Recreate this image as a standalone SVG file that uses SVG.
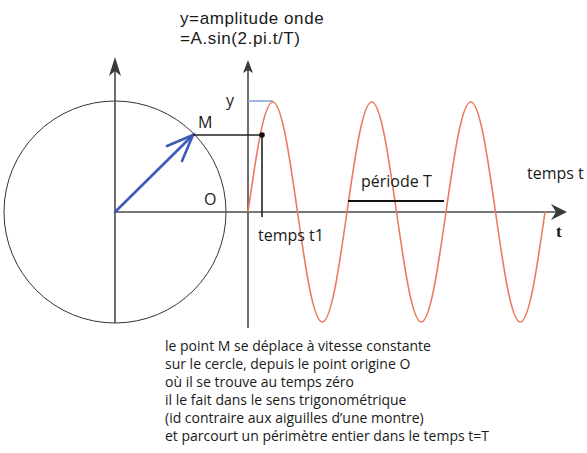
<svg xmlns="http://www.w3.org/2000/svg" width="587" height="453" viewBox="0 0 587 453">
  <style>
    .txt { font-family: "Open Sans", "Noto Sans", sans-serif; fill: #1a1a1a; }
    .title { font-family: "Liberation Sans", Arial, sans-serif; fill: #1a1a1a; font-size: 17px; letter-spacing: 0.6px; }
    .axis { stroke: #4a4a4a; stroke-width: 1.6; fill: none; }
    .thin { stroke: #333; stroke-width: 1; fill: none; }
    .wave { stroke: #ec7a5c; stroke-width: 1.6; fill: none; }
    .vec { stroke: #3b5cb8; stroke-width: 2.6; fill: none; stroke-linecap: round; }
  </style>
  <rect width="587" height="453" fill="#ffffff"/>

  <g id="circle">
    <circle cx="115" cy="212" r="111" class="thin" stroke="#3a3a3a"/>
  </g>

  <g id="axes">
    <line x1="115" y1="64" x2="115" y2="323" class="axis"/>
    <path d="M115,57 L121,76 L115,71 L109,76 Z" fill="#3a3a3a"/>
    <line x1="248" y1="66" x2="248" y2="328" class="axis"/>
    <path d="M248,60 L253,73 L248,70 L243,73 Z" fill="#3a3a3a"/>
    <line x1="115" y1="212" x2="562" y2="212" class="axis"/>
    <path d="M567,212 L551,204 L556,212 L551,220 Z" fill="#3a3a3a"/>
  </g>

  <g id="wave">
    <line x1="248" y1="101" x2="273" y2="101" stroke="#8fa2e0" stroke-width="1.6"/>
    <path class="wave" d="M248,212
      c8.07,-56.35 15.79,-110 24.75,-110 c8.96,0 16.68,53.65 24.75,110 c8.07,56.35 15.79,110 24.75,110 c8.96,0 16.68,-53.65 24.75,-110
      c8.07,-56.35 15.79,-110 24.75,-110 c8.96,0 16.68,53.65 24.75,110 c8.07,56.35 15.79,110 24.75,110 c8.96,0 16.68,-53.65 24.75,-110
      c8.07,-56.35 15.79,-110 24.75,-110 c8.96,0 16.68,53.65 24.75,110 c8.07,56.35 15.79,110 24.75,110 c8.96,0 16.68,-53.65 24.75,-110"/>
  </g>

  <g id="vector">
    <line x1="115" y1="212" x2="193" y2="135" class="vec"/>
    <path d="M167,146 L193,135 L182,161" class="vec" stroke-width="1.8" stroke="#5a78cc"/>
  </g>

  <g id="projection">
    <line x1="193" y1="135" x2="262" y2="135" stroke="#222" stroke-width="1.6"/>
    <line x1="262" y1="135" x2="262" y2="217" stroke="#222" stroke-width="1.6"/>
    <circle cx="262" cy="135" r="2.8" fill="#111"/>
  </g>

  <g id="period">
    <line x1="348" y1="201" x2="444" y2="201" stroke="#111" stroke-width="2"/>
  </g>

  <g id="labels">
    <text x="180" y="24" class="title">y=amplitude onde</text>
    <text x="180" y="43.5" class="title">=A.sin(2.pi.t/T)</text>
    <text x="226" y="106" class="txt" font-size="16">y</text>
    <text x="198" y="128" class="txt" font-size="16">M</text>
    <text x="204" y="205" class="txt" font-size="16">O</text>
    <text x="361" y="187" class="txt" font-size="16">période T</text>
    <text x="527" y="179" class="txt" font-size="16">temps t</text>
    <text x="258" y="241" class="txt" font-size="16">temps t1</text>
    <text x="556" y="237" font-family="Liberation Serif, serif" font-weight="bold" font-size="17" fill="#1a1a1a">t</text>
  </g>

  <g id="caption" class="txt" font-size="14">
    <text x="165" y="351">le point M se déplace à vitesse constante</text>
    <text x="165" y="369">sur le cercle, depuis le point origine O</text>
    <text x="165" y="387">où il se trouve au temps zéro</text>
    <text x="165" y="405">il le fait dans le sens trigonométrique</text>
    <text x="165" y="423">(id contraire aux aiguilles d’une montre)</text>
    <text x="165" y="441">et parcourt un périmètre entier dans le temps t=T</text>
  </g>
</svg>
